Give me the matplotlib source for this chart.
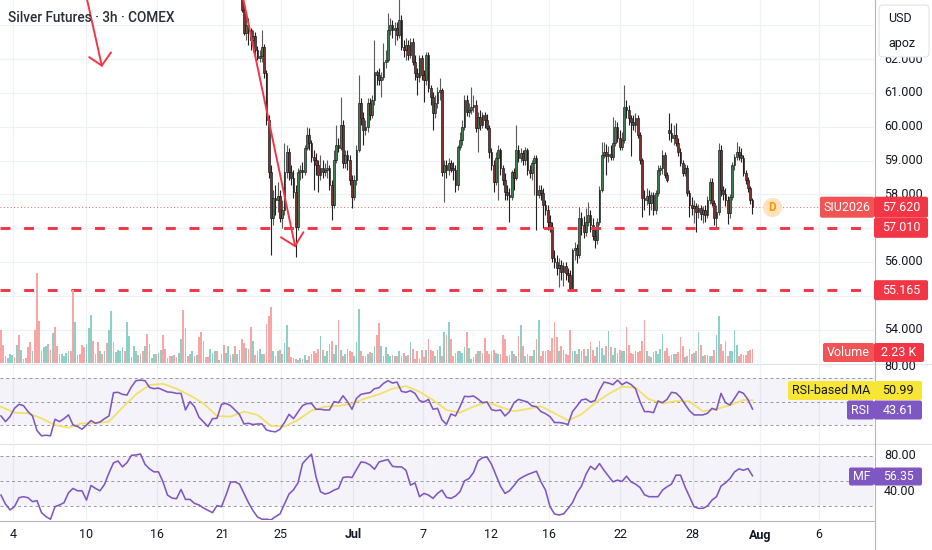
import numpy as np
import matplotlib
matplotlib.use("Agg")
import matplotlib.pyplot as plt
from matplotlib.patches import FancyBboxPatch
from matplotlib.transforms import IdentityTransform
from matplotlib.lines import Line2D

plt.rcParams['font.family'] = ['Roboto', 'DejaVu Sans']

# ---------------- data ----------------
title = "Silver Futures · 3h · COMEX"
date_labels = ["4", "10", "16", "21", "25", "Jul", "7", "12", "16", "22", "28", "Aug", "6"]
date_bars = [5.5, 37.8, 69.5, 98.5, 124.4, 156.6, 187.7, 217.8, 243.4, 275.2, 307.4, 337.3, 363.4]

candle_start = 107
c_open = [
    64.34, 63.45, 62.77, 63.01, 62.86, 62.57, 62.68, 62.27, 62.03, 62.09,
    62.36, 61.59, 60.20, 58.66, 57.30, 57.89, 57.83, 57.95, 57.30, 57.54,
    58.66, 59.25, 58.66, 58.48, 58.07, 57.03, 58.66, 58.72, 58.66, 59.37,
    59.76, 59.52, 59.10, 59.02, 58.87, 58.57, 58.78, 58.66, 58.72, 58.78,
    58.28, 57.68, 59.02, 59.46, 59.37, 60.05, 58.93, 59.16, 59.02, 58.42,
    57.92, 58.42, 59.31, 60.70, 60.26, 59.90, 59.99, 60.70, 60.35, 60.79,
    61.62, 61.53, 61.38, 61.47, 61.92, 61.97, 62.86, 63.01, 62.86, 62.92,
    62.71, 63.16, 62.36, 62.27, 62.42, 62.12, 62.51, 61.92, 61.59, 61.47,
    62.03, 61.53, 61.38, 62.12, 61.15, 60.88, 60.41, 60.70, 61.03, 61.09,
    58.66, 58.87, 58.72, 58.93, 58.78, 58.72, 58.28, 59.40, 59.61, 59.99,
    60.79, 60.44, 60.49, 60.58, 60.64, 59.96, 60.29, 60.05, 60.35, 60.20,
    59.96, 59.25, 58.87, 58.36, 59.07, 59.31, 58.78, 58.42, 58.07, 57.98,
    57.92, 58.66, 58.48, 59.31, 59.07, 59.22, 59.02, 59.31, 58.72, 58.63,
    58.93, 59.07, 57.98, 58.13, 58.04, 57.68, 57.54, 57.18, 57.03, 56.12,
    56.00, 55.82, 55.91, 55.70, 55.88, 55.67, 55.61, 55.23, 56.35, 56.41,
    56.20, 57.30, 57.09, 56.89, 57.18, 57.39, 57.09, 56.77, 56.65, 57.18,
    58.13, 59.16, 59.25, 59.13, 59.19, 59.10, 59.52, 59.99, 59.67, 59.40,
    59.61, 60.58, 60.49, 60.26, 60.14, 60.05, 60.26, 59.76, 59.02, 57.89,
    57.83, 57.95, 57.74, 57.98, 57.54, 58.04, 58.72, 58.78, 59.16, 58.57,
    59.90, 59.81, 59.67, 59.76, 59.52, 59.25, 58.93, 58.63, 58.78, 58.04,
    57.68, 57.60, 57.65, 57.48, 57.60, 57.42, 57.54, 57.39, 57.83, 58.36,
    57.74, 57.30, 57.48, 59.31, 58.13, 58.01, 57.83, 57.45, 57.92, 58.87,
    59.10, 59.25, 59.16, 59.07, 58.63, 58.42, 58.19, 57.83]
c_high = [
    64.49, 63.60, 63.37, 63.22, 62.92, 62.86, 62.80, 62.39, 62.27, 62.86,
    62.45, 61.68, 60.35, 58.87, 58.13, 58.28, 58.36, 58.13, 57.83, 59.52,
    59.46, 59.37, 58.87, 58.72, 58.28, 58.78, 58.87, 58.96, 59.46, 59.99,
    59.96, 59.61, 59.31, 59.22, 59.02, 59.16, 59.02, 58.93, 59.02, 58.87,
    58.42, 59.31, 60.05, 59.67, 60.88, 60.20, 59.31, 59.31, 59.16, 58.57,
    58.57, 59.46, 61.53, 60.85, 60.44, 60.20, 60.85, 60.85, 60.94, 62.57,
    61.68, 61.74, 61.62, 62.48, 62.27, 63.37, 63.22, 63.16, 63.10, 63.10,
    63.85, 63.31, 62.57, 62.63, 62.57, 62.63, 62.63, 62.12, 61.74, 62.12,
    62.12, 61.68, 62.21, 62.21, 61.23, 61.03, 60.94, 61.18, 61.44, 61.15,
    59.02, 59.02, 59.07, 59.02, 58.96, 58.87, 59.46, 59.84, 60.20, 60.94,
    60.94, 60.70, 61.18, 60.94, 60.79, 60.44, 60.49, 60.44, 60.44, 60.38,
    60.05, 59.37, 59.02, 59.25, 59.46, 59.37, 58.87, 58.63, 58.28, 58.19,
    58.72, 58.78, 60.05, 59.46, 59.37, 59.31, 59.40, 59.37, 58.87, 59.02,
    59.16, 59.16, 58.28, 58.28, 58.19, 57.83, 57.68, 57.39, 57.18, 56.35,
    56.20, 56.12, 56.06, 56.00, 56.00, 55.82, 55.76, 56.41, 56.59, 56.53,
    57.62, 57.48, 57.36, 57.60, 57.77, 57.54, 57.30, 57.00, 57.30, 58.25,
    59.55, 59.55, 59.49, 59.43, 59.46, 60.29, 60.20, 60.14, 59.90, 59.84,
    61.23, 60.79, 60.64, 60.35, 60.35, 60.41, 60.35, 59.84, 59.07, 58.13,
    58.19, 58.13, 58.07, 58.07, 58.13, 58.87, 58.87, 59.31, 59.25, 58.66,
    60.41, 60.11, 60.05, 60.11, 59.67, 59.37, 59.02, 58.90, 58.87, 58.13,
    57.92, 57.83, 57.74, 57.71, 57.68, 57.65, 57.68, 57.95, 58.48, 58.48,
    57.83, 57.68, 59.52, 59.46, 58.25, 58.19, 57.95, 58.01, 58.96, 59.19,
    59.55, 59.43, 59.37, 59.16, 58.72, 58.51, 58.25, 57.89]
c_low = [
    63.39, 62.71, 62.57, 62.42, 62.27, 62.21, 62.12, 61.97, 61.92, 61.92,
    61.44, 60.05, 58.48, 56.20, 57.09, 57.39, 57.48, 57.18, 57.00, 57.39,
    58.48, 58.42, 58.28, 57.89, 56.15, 56.94, 58.42, 58.48, 58.57, 59.31,
    59.31, 58.96, 58.13, 58.57, 58.07, 58.42, 58.48, 58.54, 58.48, 58.13,
    57.24, 57.60, 58.93, 59.25, 59.31, 58.78, 58.78, 58.72, 58.28, 57.60,
    57.83, 58.28, 59.25, 60.05, 59.46, 59.76, 59.84, 60.20, 60.26, 60.64,
    61.23, 61.23, 60.88, 61.38, 61.74, 61.92, 62.71, 62.63, 62.42, 62.57,
    62.63, 62.27, 62.06, 61.97, 61.97, 62.03, 61.83, 61.38, 60.94, 61.32,
    61.38, 60.73, 61.23, 61.03, 60.64, 59.90, 60.26, 60.55, 60.79, 58.54,
    57.77, 58.48, 58.57, 58.66, 58.42, 58.07, 58.13, 59.31, 59.46, 59.90,
    60.32, 60.29, 60.38, 60.44, 59.84, 59.25, 59.90, 59.96, 59.96, 59.90,
    59.07, 58.72, 58.07, 58.28, 57.83, 58.57, 58.28, 57.83, 57.83, 57.18,
    57.83, 58.13, 58.42, 58.96, 58.96, 58.87, 58.87, 58.57, 58.48, 58.42,
    57.98, 56.94, 57.89, 57.83, 57.00, 57.39, 56.94, 56.89, 56.00, 55.82,
    55.61, 55.26, 55.46, 55.29, 55.46, 55.41, 55.17, 55.20, 56.06, 55.97,
    56.12, 56.80, 56.71, 56.77, 57.06, 56.89, 56.65, 56.41, 56.53, 57.09,
    58.07, 59.07, 58.57, 58.96, 59.02, 59.02, 59.43, 59.55, 59.31, 59.31,
    59.52, 60.26, 60.05, 59.13, 59.90, 59.84, 59.67, 58.90, 57.33, 57.54,
    57.68, 57.39, 57.54, 57.39, 57.42, 57.95, 58.57, 58.60, 58.48, 58.36,
    59.61, 59.55, 59.46, 59.43, 59.13, 58.84, 58.54, 58.54, 57.95, 57.33,
    57.39, 57.15, 56.89, 57.30, 57.24, 57.15, 57.18, 57.30, 57.71, 57.65,
    57.09, 57.00, 57.39, 57.95, 57.83, 57.65, 57.12, 57.30, 57.83, 58.72,
    59.02, 59.02, 58.96, 58.54, 58.31, 58.07, 57.71, 57.42]
c_close = [
    63.45, 62.77, 63.01, 62.86, 62.57, 62.68, 62.27, 62.03, 62.09, 62.36,
    61.59, 60.20, 58.66, 57.30, 57.89, 57.83, 57.95, 57.30, 57.54, 58.66,
    59.25, 58.66, 58.48, 58.07, 57.03, 58.66, 58.72, 58.66, 59.37, 59.76,
    59.52, 59.10, 59.02, 58.87, 58.57, 58.78, 58.66, 58.72, 58.78, 58.28,
    57.68, 59.02, 59.46, 59.37, 60.05, 58.93, 59.16, 59.02, 58.42, 57.92,
    58.42, 59.31, 60.70, 60.26, 59.90, 59.99, 60.70, 60.35, 60.79, 61.62,
    61.53, 61.38, 61.47, 61.92, 61.97, 62.86, 63.01, 62.86, 62.92, 62.71,
    63.16, 62.36, 62.27, 62.42, 62.12, 62.51, 61.92, 61.59, 61.47, 62.03,
    61.53, 61.38, 62.12, 61.15, 60.88, 60.41, 60.70, 61.03, 61.09, 58.66,
    58.87, 58.72, 58.93, 58.78, 58.72, 58.28, 59.40, 59.61, 59.99, 60.79,
    60.44, 60.49, 60.58, 60.64, 59.96, 60.29, 60.05, 60.35, 60.20, 59.96,
    59.25, 58.87, 58.36, 59.07, 59.31, 58.78, 58.42, 58.07, 57.98, 57.92,
    58.66, 58.48, 59.31, 59.07, 59.22, 59.02, 59.31, 58.72, 58.63, 58.93,
    59.07, 57.98, 58.13, 58.04, 57.68, 57.54, 57.18, 57.03, 56.12, 56.00,
    55.82, 55.91, 55.70, 55.88, 55.67, 55.61, 55.23, 56.35, 56.41, 56.20,
    57.30, 57.09, 56.89, 57.18, 57.39, 57.09, 56.77, 56.65, 57.18, 58.13,
    59.16, 59.25, 59.13, 59.19, 59.10, 59.52, 59.99, 59.67, 59.40, 59.61,
    60.58, 60.49, 60.26, 60.14, 60.05, 60.26, 59.76, 59.02, 57.89, 57.83,
    57.95, 57.74, 57.98, 57.54, 58.04, 58.72, 58.78, 59.16, 58.57, 58.42,
    59.81, 59.67, 59.76, 59.52, 59.25, 58.93, 58.63, 58.78, 58.04, 57.68,
    57.60, 57.65, 57.48, 57.60, 57.42, 57.54, 57.39, 57.83, 58.36, 57.74,
    57.30, 57.48, 59.31, 58.13, 58.01, 57.83, 57.45, 57.92, 58.87, 59.10,
    59.25, 59.16, 59.07, 58.63, 58.42, 58.19, 57.83, 57.62]

# volume in thousands of contracts, one per bar from bar 0
vol_k = [
    5.2, 2.9, 1.1, 0.8, 1.4, 1.3, 1.0, 2.9, 4.5, 2.1,
    0.6, 0.8, 2.5, 3.3, 1.9, 5.2, 14.3, 6.7, 1.9, 2.5,
    2.7, 3.0, 2.1, 4.8, 5.7, 2.7, 1.4, 1.4, 1.1, 1.6,
    1.9, 1.9, 11.6, 6.5, 1.3, 1.4, 2.9, 2.5, 3.0, 5.6,
    7.6, 3.5, 1.4, 3.3, 1.9, 1.4, 1.9, 3.2, 5.2, 8.3,
    3.3, 1.7, 2.1, 1.9, 2.5, 1.9, 6.5, 4.3, 1.0, 2.7,
    1.9, 1.3, 1.4, 1.9, 2.7, 4.6, 3.0, 0.8, 1.4, 1.4,
    1.6, 2.1, 4.5, 2.2, 0.8, 1.1, 1.1, 1.3, 1.0, 1.6,
    3.8, 8.4, 5.6, 1.1, 1.4, 1.9, 1.1, 1.3, 4.1, 4.9,
    3.5, 1.0, 1.0, 2.2, 1.6, 1.9, 1.9, 0.5, 1.4, 2.9,
    1.6, 2.7, 1.3, 1.4, 2.7, 1.4, 2.1, 3.8, 3.2, 2.4,
    2.2, 5.7, 3.5, 1.3, 1.9, 2.2, 1.4, 1.4, 6.2, 7.5,
    8.9, 1.9, 1.1, 1.9, 2.1, 1.4, 3.2, 6.0, 2.5, 1.0,
    0.8, 0.6, 0.5, 0.8, 0.6, 1.3, 0.5, 1.1, 1.4, 1.9,
    1.6, 2.2, 4.3, 2.1, 1.1, 1.9, 3.0, 3.5, 1.4, 2.9,
    6.8, 2.1, 1.1, 1.4, 2.2, 1.9, 1.7, 1.1, 3.3, 8.6,
    1.9, 1.1, 1.1, 1.4, 1.7, 1.6, 2.7, 4.5, 6.4, 2.7,
    1.1, 2.5, 1.4, 1.1, 1.3, 1.1, 1.1, 1.9, 1.1, 1.6,
    1.1, 1.3, 3.3, 2.2, 0.6, 1.9, 0.6, 2.1, 1.0, 2.1,
    3.8, 2.1, 1.9, 1.1, 2.1, 2.7, 1.1, 4.9, 4.5, 6.5,
    3.8, 1.1, 1.6, 1.9, 1.9, 1.6, 2.5, 4.9, 2.4, 0.6,
    1.0, 1.4, 1.9, 1.9, 1.6, 4.0, 1.9, 1.4, 1.9, 2.1,
    1.6, 1.4, 1.4, 4.5, 3.8, 1.1, 1.3, 1.9, 1.4, 1.1,
    4.3, 6.0, 2.7, 1.1, 1.4, 1.1, 1.1, 2.1, 3.8, 6.8,
    1.1, 1.9, 1.9, 2.1, 1.9, 4.0, 6.5, 4.1, 1.9, 2.7,
    2.1, 1.4, 1.3, 5.2, 1.9, 1.9, 1.4, 2.2, 1.9, 2.2,
    1.1, 2.2, 3.3, 2.1, 1.1, 2.5, 3.5, 2.4, 1.3, 2.7,
    5.1, 2.5, 1.3, 2.4, 1.6, 2.1, 1.9, 1.9, 5.7, 2.9,
    1.6, 1.4, 1.9, 1.7, 1.9, 3.5, 6.8, 1.9, 1.1, 1.0,
    1.7, 1.9, 1.4, 2.2, 4.6, 1.9, 2.4, 1.1, 1.3, 1.4,
    1.4, 1.7, 4.1, 2.7, 1.0, 1.1, 2.2, 1.4, 1.6, 1.9,
    4.9, 2.9, 1.1, 1.3, 1.3, 1.1, 1.1, 2.1, 4.5, 7.5,
    3.0, 1.9, 3.5, 1.1, 1.9, 1.9, 5.2, 2.9, 1.1, 1.4,
    1.3, 1.3, 1.9, 2.1, 2.23]
# bar direction for the bars whose candles sit above the visible price range
vol_dir_early = list("rrrgggrgrg" "rrrrgrrrrg" "grrgrrrggg" "grrgrrrrgg"
                     "grrrgrgrgg" "rggggrgggg" "grgrgrrggr" "ggrrrrgrrg"
                     "grrrggrgrr" "rrrgggrggr" "ggrgrgr")

# RSI and money flow, sampled every second bar from bar 0
sample_step = 2
rsi = [
    37.7, 32.9, 37.1, 44.2, 47.6, 46.5, 41.4, 37.7, 25.3, 20.8,
    21.3, 20.8, 34.9, 32.9, 35.4, 38.6, 30.1, 28.7, 26.4, 29.9,
    33.8, 31.5, 32.6, 35.4, 37.7, 57.5, 57.8, 56.1, 55.5, 62.6,
    67.7, 68.2, 67.7, 62.0, 60.9, 61.4, 59.7, 58.1, 57.8, 56.9,
    56.9, 42.8, 49.9, 45.6, 36.6, 32.6, 28.7, 35.4, 35.7, 47.6,
    48.4, 46.5, 42.8, 38.9, 30.9, 31.5, 30.4, 30.9, 30.9, 25.8,
    24.7, 24.2, 26.4, 32.1, 39.1, 35.4, 41.1, 46.5, 48.2, 48.4,
    43.4, 43.4, 42.8, 42.8, 49.9, 49.0, 54.9, 49.9, 43.4, 52.7,
    56.1, 56.9, 57.5, 60.9, 61.7, 65.4, 67.7, 65.7, 66.5, 58.6,
    57.8, 59.2, 56.9, 50.7, 49.6, 51.8, 43.4, 44.2,
    34.3, 30.6, 39.4, 37.7, 45.6, 54.4, 54.1, 54.7, 52.1, 49.0,
    49.6, 43.1, 42.2, 42.8, 37.7, 41.4, 49.0, 51.8, 50.7, 49.6,
    46.2, 45.6, 41.4, 39.7, 37.1, 32.1, 32.1, 31.5, 30.4, 41.4,
    46.2, 51.3, 52.1, 49.6, 50.7, 59.7, 66.5, 65.7, 64.3, 68.2,
    64.3, 66.5, 64.5, 60.9, 49.9, 41.4, 41.4, 40.5, 50.4, 49.0,
    51.8, 57.8, 57.2, 53.5, 47.6, 42.2, 38.6, 38.6, 38.6, 40.0,
    44.2, 42.8, 56.9, 49.0, 47.0, 52.7, 58.6, 56.9, 51.6, 43.61]
mf = [
    33.5, 22.9, 15.9, 19.8, 30.4, 31.6, 30.4, 25.7, 26.9, 12.7,
    8.0, 4.9, 19.8, 21.8, 24.5, 36.3, 41.4, 38.6, 38.6, 27.6,
    44.9, 41.4, 38.6, 46.1, 59.8, 71.6, 73.9, 66.9, 72.0, 80.6,
    81.0, 82.2, 70.0, 64.5, 61.0, 61.0, 49.2, 33.5, 30.0, 29.2,
    40.2, 28.4, 28.4, 23.7, 21.8, 18.2, 15.5, 12.7, 21.0, 19.8,
    33.5, 48.8, 49.2, 46.5, 35.5, 24.5, 15.1, 7.6, 4.9, 4.9,
    4.1, 8.0, 11.2, 22.9, 34.7, 39.8, 48.0, 70.8, 76.7, 82.0,
    55.1, 37.5, 34.7, 36.3, 39.4, 41.4, 54.3, 55.1, 54.3, 63.7,
    72.7, 72.0, 69.2, 64.1, 72.7, 74.3, 75.5, 67.6, 66.9, 66.9,
    62.9, 45.3, 48.0, 31.6, 35.5, 33.5, 29.6, 35.5,
    39.4, 30.8, 29.6, 32.4, 37.5, 50.4, 53.1, 60.2, 73.9, 77.8,
    78.6, 70.0, 57.1, 44.1, 35.5, 38.6, 44.9, 51.9, 55.1, 57.8,
    59.8, 61.8, 49.2, 39.4, 19.8, 11.2, 10.0, 11.2, 17.5, 24.5,
    36.3, 44.1, 58.2, 67.6, 63.7, 70.8, 62.9, 55.9, 49.2, 51.2,
    49.6, 55.9, 49.2, 46.5, 42.5, 33.9, 31.6, 31.6, 31.6, 39.4,
    43.3, 46.5, 57.1, 57.1, 43.3, 31.6, 19.8, 17.8, 17.8, 20.6,
    27.6, 31.6, 44.1, 48.0, 53.1, 61.0, 64.5, 62.9, 64.9, 56.35]
rsi_ma_bars = list(range(0, 331, 6)) + [334]
rsi_ma = [
    45.6, 40.5, 40.0, 35.7, 29.9, 27.8, 31.5, 31.5, 32.9, 44.9,
    56.1, 64.0, 65.1, 60.9, 55.2, 48.4, 37.7, 37.1, 41.4, 38.6,
    29.2, 28.7, 34.3, 42.2, 45.6, 46.2, 48.2, 52.7, 56.1, 60.9,
    63.1, 58.3, 51.3, 42.8, 40.5, 45.6, 49.6, 45.3, 41.7, 43.6,
    45.9, 40.0, 33.8, 39.1, 48.7, 56.4, 62.6, 61.7, 51.8, 48.4,
    50.4, 50.1, 41.7, 43.6, 46.8, 51.3, 50.99]

support_levels = [57.010, 55.165]
price_ticks = [54, 55, 56, 57, 58, 59, 60, 61, 62, 63]
price_labels_shown = [54, 56, 58, 59, 60, 61, 62]
# user drawings (bar index, price)
arrow1 = [(37.8, 63.90), (44.8, 61.81)]
arrow1_head = [(39.2, 62.06), (44.8, 61.81), (48.9, 62.20)]
arrow2 = [(107.3, 63.90), (130.7, 56.47)]
arrow2_head = [(124.4, 56.73), (130.7, 56.47), (134.4, 56.88)]
badge_bar = 342.7

# ---------------- layout ----------------
W, H = 932, 550
fig = plt.figure(figsize=(W / 100, H / 100), dpi=100)
fig.patch.set_facecolor('white')
X0, X1 = -0.44, 388.0


def px_axes(l, t, r, b, z, fc='none'):
    a = fig.add_axes([l / W, 1 - b / H, (r - l) / W, (b - t) / H], zorder=z)
    a.set_facecolor(fc)
    for s in a.spines.values():
        s.set_visible(False)
    a.set_xticks([])
    a.set_yticks([])
    a.set_xlim(X0, X1)
    return a


ax = px_axes(0, 0, 874, 363, 1.0, 'white')
vax = px_axes(0, 0, 874, 363, 1.1)
axr = px_axes(0, 364, 874, 443, 1.0)
axm = px_axes(0, 444, 874, 520, 1.0)
ax.set_ylim(53.01, 63.751)
vax.set_ylim(0, 57.5)
axr.set_ylim(14.7, 81.9)
axm.set_ylim(4.0, 94.0)

grid_c = '#eef1f6'
for a in (ax, axr, axm):
    for b in date_bars:
        a.axvline(b, color=grid_c, lw=0.9, zorder=0)
for p in price_ticks:
    ax.axhline(p, color=grid_c, lw=0.9, zorder=0)

# candles
o = np.array(c_open); hi = np.array(c_high); lo = np.array(c_low); c = np.array(c_close)
xs = np.arange(candle_start, candle_start + len(c))
up = c >= o
ax.vlines(xs, lo, hi, colors=['#5a5a5a' if u else '#222222' for u in up], lw=0.8, zorder=3)
ax.bar(xs, np.maximum(np.abs(c - o), 0.025), bottom=np.minimum(o, c), width=0.72,
       color=['#3f7a50' if u else '#7f2f2f' for u in up], edgecolor='#151515',
       linewidth=0.45, zorder=4)

# volume
vol = np.array(vol_k)
vx = np.arange(len(vol))
vcols = []
for i in vx:
    if i < candle_start:
        g = vol_dir_early[i] == 'g'
    else:
        k = i - candle_start
        g = c[k] >= o[k]
    vcols.append('#8ed0c6' if g else '#f6a7a5')
vax.bar(vx, vol, width=0.72, color=vcols, linewidth=0)

# price lines
red = '#f23645'
ax.hlines(support_levels, X0, 383.1, colors=red, lw=2.1, linestyles=(0, (3.4, 4.7)), zorder=5)
ax.hlines(c_close[-1], X0, 364.0, colors=red, lw=0.7, linestyles=(0, (1, 2.5)), alpha=0.8, zorder=2)

# drawings
for seg in (arrow1, arrow1_head, arrow2, arrow2_head):
    ax.plot([p[0] for p in seg], [p[1] for p in seg], color=red, lw=1.4, zorder=6,
            solid_capstyle='round', solid_joinstyle='miter')

ax.scatter([badge_bar], [c_close[-1]], s=190, color='#ffe3bf', zorder=6, linewidths=0)
ax.text(badge_bar, c_close[-1], 'D', color='#ff9800', fontsize=8.5, fontweight='bold',
        ha='center', va='center', zorder=7)

# RSI pane
purple = '#7e57c2'
axr.axhspan(30, 70, color=purple, alpha=0.07, lw=0, zorder=0)
for lvl in (70, 50, 30):
    axr.axhline(lvl, color='#9598a1', lw=0.7, ls=(0, (3, 3)), zorder=1)
sx = np.arange(0, sample_step * len(rsi), sample_step)
axr.plot(rsi_ma_bars, rsi_ma, color='#f1e05a', lw=1.3, alpha=0.9, zorder=2)
axr.plot(sx, rsi, color=purple, lw=1.15, zorder=3)

# MF pane
axm.axhspan(20, 80, color=purple, alpha=0.07, lw=0, zorder=0)
for lvl in (80, 50, 20):
    axm.axhline(lvl, color='#9598a1', lw=0.7, ls=(0, (3, 3)), zorder=1)
axm.plot(np.arange(0, sample_step * len(mf), sample_step), mf, color=purple, lw=1.15, zorder=3)

# separators / frame
def hline_px(y, x0, x1, col, lw=0.8, z=1.5):
    fig.add_artist(Line2D([x0, x1], [H - y, H - y], transform=IdentityTransform(),
                          color=col, lw=lw, zorder=z))

hline_px(363.5, 0, W, '#e0e3eb')
hline_px(443.5, 0, W, '#e0e3eb')
hline_px(520.5, 0, 874.5, '#b2b5be')
fig.add_artist(Line2D([874.5, 874.5], [0, H], transform=IdentityTransform(),
                      color='#b2b5be', lw=0.8, zorder=1.5))

TXT = '#131722'


def ylab(a, v, text, dy=0.0):
    yd = a.transData.transform((0, v))[1] - dy
    fig.text(884 / W, yd / H, text, ha='left', va='center', fontsize=9, color=TXT, zorder=4)


for p in price_labels_shown:
    ylab(ax, p, f"{p:.3f}")
ylab(axr, 80, "80.00")
ylab(axm, 80, "80.00")
ylab(axm, 40, "40.00", dy=1.5)

for lab, b in zip(date_labels, date_bars):
    xd = ax.transData.transform((b, 0))[0]
    fig.text(xd / W, (H - 535) / H, lab, ha='center', va='center', fontsize=9, color=TXT,
             fontweight='bold' if lab in ('Jul', 'Aug') else 'normal')

fig.text(8 / W, 1 - 18 / H, title, ha='left', va='center', fontsize=9.8, color='#2a2e39',
         fontweight='medium', zorder=4)


def tag(x0, x1, ytop, h, fc, text, tc='white', fs=9):
    yd = H - ytop
    p = FancyBboxPatch((x0, yd - h / 2), x1 - x0, h, boxstyle='round,pad=0,rounding_size=2',
                       transform=IdentityTransform(), fc=fc, ec='none', zorder=5)
    fig.add_artist(p)
    fig.text((x0 + x1) / 2 / W, yd / H, text, ha='center', va='center', fontsize=fs,
             color=tc, zorder=6)


def yval(a, v):
    return H - a.transData.transform((0, v))[1]


y_last = yval(ax, c_close[-1])
tag(820, 874, y_last, 21, '#f05454', "SIU2026")
tag(874, 928, y_last, 21, red, f"{c_close[-1]:.3f}")
for lvl in support_levels:
    tag(874, 928, yval(ax, lvl), 20, red, f"{lvl:.3f}")
tag(823, 874, 352.5, 19, '#f05454', "Volume")
tag(874, 924, 352.5, 19, red, f"{vol_k[-1]:.2f} K")
tag(788, 874, 390.5, 19, '#f7e633', "RSI-based MA", tc=TXT)
tag(874, 922, 390.5, 19, '#f7e633', f"{rsi_ma[-1]:.2f}", tc=TXT)
tag(847, 874, 410.0, 19, purple, "RSI")
tag(874, 922, 410.0, 19, purple, f"{rsi[-1]:.2f}")
tag(849, 874, 476.5, 18, purple, "MF", fs=8.8)
tag(874, 922, 476.5, 18, purple, f"{mf[-1]:.2f}", fs=8.8)

# currency / unit box
box = FancyBboxPatch((879, H - 57), 50, 52, boxstyle='round,pad=0,rounding_size=4',
                     transform=IdentityTransform(), fc='white', ec='#e0e3eb', lw=0.8, zorder=7)
fig.add_artist(box)
fig.text(888 / W, 1 - 18 / H, "USD", ha='left', va='center', fontsize=9, color=TXT, zorder=8)
fig.text(888 / W, 1 - 43 / H, "apoz", ha='left', va='center', fontsize=9, color=TXT, zorder=8)

fig.savefig("out.png", dpi=100, facecolor='white')
